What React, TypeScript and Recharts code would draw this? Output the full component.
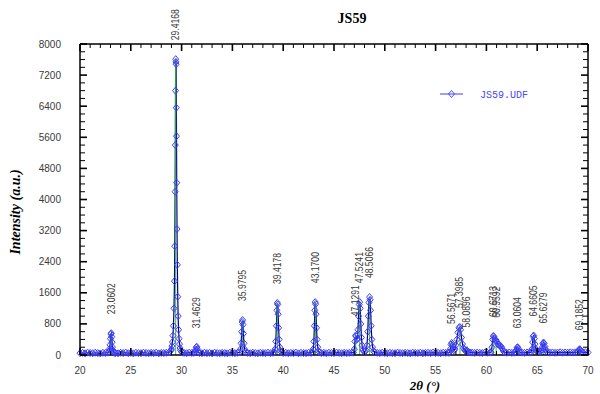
import React from 'react';
import { ComposedChart, Line, XAxis, YAxis, ReferenceLine, Scatter } from 'recharts';

// ---- Scan data (2θ, intensity) ----
const scanA = [[20,48],[20.25,55],[20.5,42],[20.75,60],[21,51],[21.25,45],[21.5,58],[21.75,50],[22,40],[22.25,56],[22.5,52]];
const peak23 = [[22.75,60],[22.85,90],[22.9,150],[22.95,260],[23.0,420],[23.04,540],[23.08,560],[23.12,470],[23.16,330],[23.2,200],[23.25,120],[23.3,80],[23.4,55]];
const scanB = [[23.5,50],[23.75,44],[24,57],[24.25,49],[24.5,62],[24.75,46],[25,53],[25.25,41],[25.5,58],[25.75,50],[26,47],[26.25,61],[26.5,52],[26.75,45],[27,55],[27.25,49],[27.5,60],[27.75,43],[28,54],[28.25,51],[28.5,57],[28.75,64]];
const peak29 = [[28.85,85],[28.95,120],[29.0,150],[29.05,230],[29.1,330],[29.15,500],[29.2,750],[29.25,1200],[29.3,1900],[29.33,2800],[29.36,4200],[29.38,5400],[29.4,6800],[29.42,7610],[29.44,7540],[29.46,7480],[29.48,6360],[29.5,5630],[29.52,4430],[29.55,3240],[29.58,2320],[29.62,1500],[29.66,1000],[29.7,650],[29.75,420],[29.8,280],[29.85,180],[29.9,120],[30.0,80],[30.1,62]];
const scanC = [[30.25,55],[30.5,48],[30.75,60],[31,52],[31.2,57]];
const peak31 = [[31.3,70],[31.38,130],[31.44,200],[31.5,210],[31.56,150],[31.64,80]];
const scanD = [[31.75,52],[32,46],[32.25,58],[32.5,49],[32.75,55],[33,43],[33.25,60],[33.5,51],[33.75,47],[34,56],[34.25,50],[34.5,44],[34.75,59],[35,53],[35.25,48],[35.5,57]];
const peak36 = [[35.7,70],[35.8,150],[35.86,300],[35.92,600],[35.96,850],[36.0,900],[36.04,780],[36.08,550],[36.14,300],[36.2,150],[36.3,80]];
const scanE = [[36.5,54],[36.75,47],[37,60],[37.25,50],[37.5,45],[37.75,57],[38,52],[38.25,49],[38.5,61],[38.75,48],[39,55]];
const peak39 = [[39.1,70],[39.2,150],[39.27,350],[39.33,750],[39.38,1150],[39.42,1340],[39.46,1300],[39.5,1050],[39.55,700],[39.6,400],[39.67,200],[39.75,100],[39.85,65]];
const scanF = [[40,52],[40.25,58],[40.5,46],[40.75,55],[41,49],[41.25,62],[41.5,44],[41.75,57],[42,51],[42.25,48],[42.5,59],[42.75,53]];
const peak43 = [[42.85,70],[42.95,150],[43.02,350],[43.07,750],[43.11,1150],[43.15,1360],[43.19,1310],[43.23,1050],[43.28,700],[43.33,400],[43.4,200],[43.48,100],[43.58,65]];
const scanG = [[43.75,50],[44,57],[44.25,45],[44.5,59],[44.75,52],[45,48],[45.25,61],[45.5,54],[45.75,46],[46,58],[46.25,51],[46.5,55],[46.75,62]];
const peak47 = [[46.9,60],[47,150],[47.06,350],[47.12,500],[47.18,480],[47.24,400],[47.3,420],[47.36,650],[47.42,1000],[47.48,1300],[47.53,1360],[47.58,1200],[47.64,800],[47.7,450],[47.76,250],[47.85,130],[47.95,90],[48.05,90],[48.15,120],[48.25,250],[48.32,600],[48.38,1000],[48.44,1350],[48.5,1490],[48.55,1420],[48.6,1150],[48.66,750],[48.72,400],[48.8,200],[48.9,100],[49,70]];
const scanH = [[49.25,56],[49.5,49],[49.75,60],[50,52],[50.25,45],[50.5,58],[50.75,50],[51,47],[51.25,62],[51.5,53],[51.75,48],[52,57],[52.25,51],[52.5,44],[52.75,59],[53,55],[53.25,50],[53.5,61],[53.75,46],[54,54],[54.25,58],[54.5,49],[54.75,63],[55,52],[55.25,56],[55.5,47],[55.75,60],[56,54],[56.25,58]];
const peak57 = [[56.35,60],[56.45,150],[56.52,270],[56.58,310],[56.65,250],[56.72,160],[56.8,120],[56.9,150],[57,250],[57.1,400],[57.2,580],[57.3,700],[57.38,720],[57.46,650],[57.55,450],[57.65,280],[57.75,180],[57.85,130],[57.95,110],[58.05,120],[58.12,100],[58.25,80],[58.4,65]];
const scanI = [[58.6,60],[58.85,54],[59.1,63],[59.35,57],[59.6,51],[59.85,65],[60.1,58],[60.35,62]];
const peak61 = [[60.45,70],[60.55,200],[60.62,400],[60.68,490],[60.74,470],[60.8,420],[60.88,380],[60.96,380],[61.04,330],[61.12,280],[61.2,260],[61.3,250],[61.4,230],[61.5,200],[61.6,140],[61.7,90],[61.8,70]];
const scanJ = [[62,58],[62.25,64],[62.5,55],[62.75,61]];
const peak63 = [[62.85,70],[62.95,130],[63.02,190],[63.08,200],[63.15,160],[63.22,100],[63.3,70]];
const scanK = [[63.5,62],[63.75,56],[64,65],[64.25,59]];
const peak65 = [[64.4,70],[64.48,150],[64.55,330],[64.6,480],[64.66,500],[64.72,420],[64.78,280],[64.86,160],[64.95,100],[65.05,90],[65.2,85],[65.32,90],[65.42,120],[65.5,200],[65.56,290],[65.62,320],[65.68,300],[65.75,220],[65.82,150],[65.9,100],[66,70]];
const scanL = [[66.25,60],[66.5,66],[66.75,57],[67,63],[67.25,70],[67.5,59],[67.75,65],[68,61],[68.25,68],[68.5,62],[68.75,66]];
const peak69 = [[68.95,75],[69.05,100],[69.12,135],[69.19,150],[69.26,130],[69.35,85]];
const scanM = [[69.5,68],[69.75,72],[70,65]];

// ---- Peak list (stick pattern) ----
const peakPositions = [23.0602, 29.4168, 31.4629, 35.9795, 39.4178, 43.17, 47.1291, 47.5241, 48.5066, 56.5671, 57.3985, 58.0896, 60.6713, 60.9592, 63.0604, 64.6605, 65.6279, 69.1852];
const peakLabels = ['23.0602', '29.4168', '31.4629', '35.9795', '39.4178', '43.1700', '47.1291', '47.5241', '48.5066', '56.5671', '57.3985', '58.0896', '60.6713', '60.9592', '63.0604', '64.6605', '65.6279', '69.1852'];
const peakHeights = [560, 7610, 200, 900, 1340, 1360, 510, 1360, 1490, 310, 720, 220, 490, 470, 200, 500, 320, 150];

// ---- Axis ticks ----
const xTicks = [20,21,22,23,24,25,26,27,28,29,30,31,32,33,34,35,36,37,38,39,40,41,42,43,44,45,46,47,48,49,50,51,52,53,54,55,56,57,58,59,60,61,62,63,64,65,66,67,68,69,70];
const xLabelTicks = [20, 25, 30, 35, 40, 45, 50, 55, 60, 65, 70];
const yTicks = [0,200,400,600,800,1000,1200,1400,1600,1800,2000,2200,2400,2600,2800,3000,3200,3400,3600,3800,4000,4200,4400,4600,4800,5000,5200,5400,5600,5800,6000,6200,6400,6600,6800,7000,7200,7400,7600,7800,8000];
const yLabelTicks = [0, 800, 1600, 2400, 3200, 4000, 4800, 5600, 6400, 7200, 8000];

const pattern = [
  ...scanA, ...peak23, ...scanB, ...peak29, ...scanC, ...peak31, ...scanD, ...peak36,
  ...scanE, ...peak39, ...scanF, ...peak43, ...scanG, ...peak47, ...scanH, ...peak57,
  ...scanI, ...peak61, ...scanJ, ...peak63, ...scanK, ...peak65, ...scanL, ...peak69, ...scanM,
].map(([x, y]) => ({ x, y }));

const peaks = peakPositions.map((x, i) => ({ x, h: peakHeights[i], label: peakLabels[i] }));

// layout
const W = 600;
const H = 394;
const MARGIN = { top: 44, right: 12, bottom: 9, left: 40 };
const Y_AXIS_W = 40;
const X_AXIS_H = 30;
const PLOT_W = W - MARGIN.left - MARGIN.right - Y_AXIS_W;
const PLOT_H = H - MARGIN.top - MARGIN.bottom - X_AXIS_H;

const LINE = '#00008b';
const MARK = '#3c3cff';
const STICK = '#3cbf3c';
const TICK_TXT = '#3a3a3a';
const SANS = '"Liberation Sans", Arial, sans-serif';
const SERIF = '"Liberation Serif", "Times New Roman", serif';

const Diamond = (props: any) => {
  const { cx, cy, index } = props;
  if (cx == null || cy == null) return <g key={`d${index}`} />;
  return (
    <path
      key={`d${index}`}
      d={`M${cx},${cy - 3.5}L${cx + 3},${cy}L${cx},${cy + 3.5}L${cx - 3},${cy}Z`}
      fill="none"
      stroke={MARK}
      strokeWidth={1}
    />
  );
};

const BottomTick = (props: any) => {
  const { x, y, payload } = props;
  const v = payload.value;
  const major = xLabelTicks.includes(v);
  const len = major ? 7 : 4;
  const sw = major ? 1.6 : 1;
  const top = y - PLOT_H;
  return (
    <g>
      <line x1={x} x2={x} y1={y} y2={y - len} stroke="#000" strokeWidth={sw} />
      <line x1={x} x2={x} y1={top} y2={top + len} stroke="#000" strokeWidth={sw} />
      {major && (
        <text x={x} y={y + 19} textAnchor="middle" fontSize={10} fontFamily={SANS} fill={TICK_TXT}>{v}</text>
      )}
    </g>
  );
};

const LeftTick = (props: any) => {
  const { x, y, payload } = props;
  const v = payload.value;
  const major = yLabelTicks.includes(v);
  const len = major ? 7 : 5;
  const sw = major ? 1.6 : 1;
  const right = x + PLOT_W;
  return (
    <g>
      <line x1={x} x2={x + len} y1={y} y2={y} stroke="#000" strokeWidth={sw} />
      <line x1={right} x2={right - len} y1={y} y2={y} stroke="#000" strokeWidth={sw} />
      {major && (
        <text x={x - 19} y={y + 3.5} textAnchor="end" fontSize={10} fontFamily={SANS} fill={TICK_TXT}>{v}</text>
      )}
    </g>
  );
};

const PeakLabel = (props: any) => {
  const { cx, cy, payload, index } = props;
  if (cx == null || cy == null) return <g key={`p${index}`} />;
  const tx = cx + 3.5;
  const ty = cy - 19;
  return (
    <text
      key={`p${index}`}
      transform={`translate(${tx},${ty}) rotate(-90) scale(0.86,1)`}
      x={0}
      y={0}
      textAnchor="start"
      fontSize={10}
      fontFamily={SANS}
      fill={TICK_TXT}
    >
      {payload.label}
    </text>
  );
};

const axisLine = { stroke: '#000', strokeWidth: 1.5 };

export default function App() {
  return (
    <div style={{ position: 'absolute', left: 0, top: 0, width: W, height: H, background: '#fff' }}>
      <ComposedChart width={W} height={H} data={pattern} margin={MARGIN}>
        <XAxis
          dataKey="x"
          type="number"
          domain={[20, 70]}
          ticks={xTicks}
          interval={0}
          tickLine={false}
          tickSize={0}
          tickMargin={0}
          axisLine={axisLine}
          height={X_AXIS_H}
          tick={<BottomTick />}
        />
        <YAxis
          type="number"
          domain={[0, 8000]}
          ticks={yTicks}
          interval={0}
          tickLine={false}
          tickSize={0}
          tickMargin={0}
          axisLine={axisLine}
          width={Y_AXIS_W}
          tick={<LeftTick />}
        />
        <ReferenceLine y={8000} stroke="#000" strokeWidth={1.5} ifOverflow="visible" />
        <ReferenceLine x={70} stroke="#000" strokeWidth={1.5} ifOverflow="visible" />
        <Line
          dataKey="y"
          type="linear"
          stroke={LINE}
          strokeWidth={1.2}
          dot={Diamond}
          activeDot={false}
          isAnimationActive={false}
          legendType="none"
        />
        {peaks.map((p, i) => (
          <ReferenceLine
            key={`s${i}`}
            segment={[{ x: p.x, y: 0 }, { x: p.x, y: p.h }]}
            stroke={STICK}
            strokeWidth={1}
          />
        ))}
        <Scatter data={peaks} dataKey="h" shape={PeakLabel} isAnimationActive={false} legendType="none" />
        <text x={352} y={23} textAnchor="middle" fontFamily={SERIF} fontWeight="bold" fontSize={14} fill="#000">JS59</text>
        <text
          transform="translate(20,212) rotate(-90)"
          textAnchor="middle"
          fontFamily={SERIF}
          fontWeight="bold"
          fontStyle="italic"
          fontSize={14}
          fill="#000"
        >
          Intensity (a.u.)
        </text>
        <text x={425} y={390} textAnchor="middle" fontFamily={SERIF} fontWeight="bold" fontStyle="italic" fontSize={13} fill="#000">
          2θ (°)
        </text>
        <g>
          <line x1={440} x2={463} y1={94} y2={94} stroke={MARK} strokeWidth={1} />
          <path d="M451.5,90.5L454.5,94L451.5,97.5L448.5,94Z" fill="none" stroke={MARK} strokeWidth={0.9} />
          <text x={480} y={98} fontFamily='"Liberation Mono", "DejaVu Sans Mono", monospace' fontSize={10} fill="#4646ff">JS59.UDF</text>
        </g>
      </ComposedChart>
    </div>
  );
}
